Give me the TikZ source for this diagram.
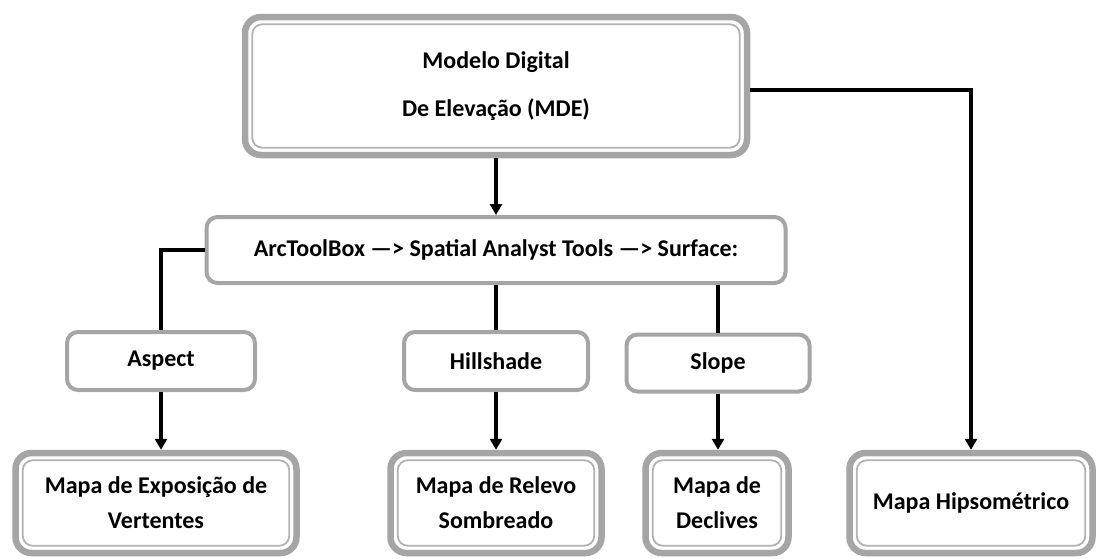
\documentclass[tikz,border=0pt]{standalone}
\usepackage{fontspec}
\setmainfont{Carlito}
\usetikzlibrary{positioning}
\usetikzlibrary{arrows.meta}
\definecolor{boxgray}{RGB}{165,165,165}

\begin{document}
\begin{tikzpicture}
	[x=1pt, y=-1pt,
	 toolbox/.style={draw=boxgray, line width=4pt, rounded corners=11pt, fill=white, align=center, inner sep=0pt, font=\bfseries\fontsize{24}{35}\selectfont},
	 mapbox/.style={toolbox, line width=6.5pt, rounded corners=16pt},
	 innerframe/.style={draw=boxgray!85, line width=1.8pt, rounded corners=10pt},
	 link/.style={draw=black, line width=3.5pt},
	 flow/.style={link, -{Triangle[width=12pt, length=11pt]}}]
	\useasboundingbox (0,0) rectangle (1097,558);

	\node[mapbox, minimum width=502pt, minimum height=138pt] (mde) at (496,86) {Modelo Digital\\[13pt]De Elevação (MDE)};
	\node[toolbox, minimum width=579pt, minimum height=66pt] (arc) at (496,250) {ArcToolBox —> Spatial Analyst Tools —> Surface:};
	\node[toolbox, minimum width=188pt, minimum height=58pt] (aspect) at (161,361) {Aspect};
	\node[toolbox, minimum width=184pt, minimum height=58pt] (hill) at (496,361) {Hillshade};
	\node[toolbox, minimum width=183pt, minimum height=57pt] (slope) at (718,363) {Slope};
	\node[mapbox, minimum width=281pt, minimum height=100pt] (expo) at (156,503) {Mapa de Exposição de\\Vertentes};
	\node[mapbox, minimum width=211pt, minimum height=100pt] (relevo) at (496,503) {Mapa de Relevo\\Sombreado};
	\node[mapbox, minimum width=143pt, minimum height=100pt] (decl) at (717,503) {Mapa de\\Declives};
	\node[mapbox, minimum width=243pt, minimum height=100pt] (hipso) at (971,503) {Mapa Hipsométrico};

	\foreach \n in {mde,expo,relevo,decl,hipso}
		\draw[innerframe] ([shift={(10.5pt,-10.5pt)}]\n.north west) rectangle ([shift={(-10.5pt,10.5pt)}]\n.south east);

	\draw[flow] (mde.south) -- (mde.south |- arc.north);
	\draw[flow] ([yshift=-4pt]mde.east) -| (hipso.north);
	\draw[link] (arc.west) -| (aspect.north);
	\draw[link] (hill.north |- arc.south) -- (hill.north);
	\draw[link] (slope.north |- arc.south) -- (slope.north);
	\draw[flow] (aspect.south) -- (aspect.south |- expo.north);
	\draw[flow] (hill.south) -- (relevo.north);
	\draw[flow] (slope.south) -- (slope.south |- decl.north);
\end{tikzpicture}
\end{document}
